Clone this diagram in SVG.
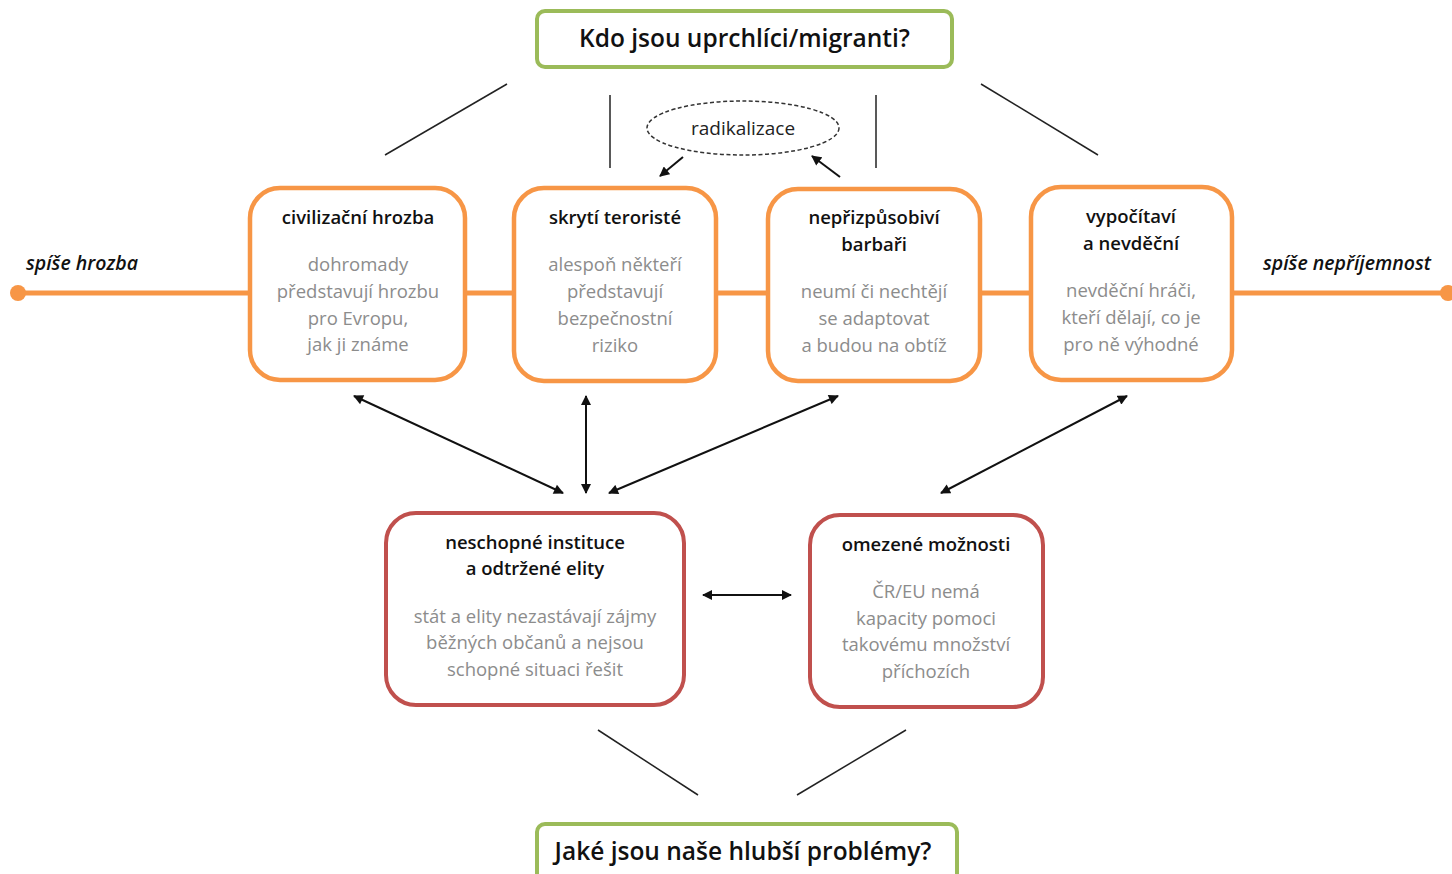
<svg xmlns="http://www.w3.org/2000/svg" width="1452" height="874" viewBox="0 0 1452 874">
<defs>
<style>
.green{fill:#fff;stroke:#9bbb59;stroke-width:4}
.orange{fill:#fff;stroke:#f79646;stroke-width:4.5}
.red{fill:#fff;stroke:#c0504d;stroke-width:4}
.q{font-family:"Open Sans","Liberation Sans",sans-serif;font-size:24.5px;font-weight:600;fill:#111;text-anchor:middle}
.t{font-family:"Open Sans","Liberation Sans",sans-serif;font-size:18.5px;font-weight:600;fill:#111;text-anchor:middle}
.b{font-family:"Open Sans","Liberation Sans",sans-serif;font-size:18.5px;fill:#8c8c8c;text-anchor:middle}
.side{font-family:"Open Sans","Liberation Sans",sans-serif;font-size:19.5px;font-weight:600;font-style:italic;fill:#111}
.ln{stroke:#222;stroke-width:1.5;fill:none}
.ar{stroke:#111;stroke-width:2;fill:none;marker-end:url(#ah)}
.ar2{stroke:#111;stroke-width:2;fill:none;marker-end:url(#ah);marker-start:url(#ahs)}
</style>
<marker id="ah" viewBox="0 0 10 10" refX="9" refY="5" markerWidth="11" markerHeight="10" markerUnits="userSpaceOnUse" orient="auto"><path d="M0,0 L10,5 L0,10 z" fill="#111"/></marker>
<marker id="ahs" viewBox="0 0 10 10" refX="1" refY="5" markerWidth="11" markerHeight="10" markerUnits="userSpaceOnUse" orient="auto"><path d="M10,0 L0,5 L10,10 z" fill="#111"/></marker>
</defs>
<rect width="1452" height="874" fill="#fff"/>

<g id="axis">
<line x1="18" y1="293" x2="1448" y2="293" stroke="#f79646" stroke-width="5"/>
<circle cx="18" cy="293" r="8" fill="#f79646"/>
<circle cx="1448" cy="293" r="8" fill="#f79646"/>
<text class="side" x="26" y="270">spíše hrozba</text>
<text class="side" x="1263" y="270">spíše nepříjemnost</text>
</g>

<g id="connectors">
<line class="ln" x1="385" y1="155" x2="507" y2="84"/>
<line class="ln" x1="610" y1="95" x2="610" y2="168"/>
<line class="ln" x1="876" y1="95" x2="876" y2="168"/>
<line class="ln" x1="981" y1="84" x2="1098" y2="155"/>
<line class="ar" x1="683" y1="157" x2="660" y2="176"/>
<line class="ar" x1="840" y1="177" x2="812" y2="156"/>
<line class="ar2" x1="354" y1="396" x2="563" y2="493"/>
<line class="ar2" x1="586" y1="396" x2="586" y2="493"/>
<line class="ar2" x1="838" y1="396" x2="609" y2="493"/>
<line class="ar2" x1="1127" y1="396" x2="941" y2="493"/>
<line class="ar2" x1="703" y1="595" x2="791" y2="595"/>
<line class="ln" x1="598" y1="730" x2="698" y2="795"/>
<line class="ln" x1="906" y1="730" x2="797" y2="795"/>
</g>

<g id="q-top">
<rect class="green" x="537" y="11" width="415" height="56" rx="8"/>
<text class="q" x="744.5" y="47">Kdo jsou uprchlíci/migranti?</text>
</g>

<g id="radikalizace">
<ellipse cx="743" cy="128" rx="96" ry="27" fill="#fff" stroke="#333" stroke-width="1.5" stroke-dasharray="4,2.5"/>
<text x="743" y="135" font-family="'Open Sans','Liberation Sans',sans-serif" font-size="19" fill="#222" text-anchor="middle">radikalizace</text>
</g>

<g id="n1">
<rect class="orange" x="250" y="188" width="215" height="192" rx="30"/>
<text class="t" x="358" y="224">civilizační hrozba</text>
<text class="b" x="358" y="271">dohromady</text>
<text class="b" x="358" y="298">představují hrozbu</text>
<text class="b" x="358" y="325">pro Evropu,</text>
<text class="b" x="358" y="351">jak ji známe</text>
</g>

<g id="n2">
<rect class="orange" x="514" y="188" width="202" height="193" rx="30"/>
<text class="t" x="615" y="224">skrytí teroristé</text>
<text class="b" x="615" y="271">alespoň někteří</text>
<text class="b" x="615" y="298">představují</text>
<text class="b" x="615" y="325">bezpečnostní</text>
<text class="b" x="615" y="352">riziko</text>
</g>

<g id="n3">
<rect class="orange" x="768" y="189" width="212" height="192" rx="30"/>
<text class="t" x="874" y="224">nepřizpůsobiví</text>
<text class="t" x="874" y="251">barbaři</text>
<text class="b" x="874" y="298">neumí či nechtějí</text>
<text class="b" x="874" y="325">se adaptovat</text>
<text class="b" x="874" y="352">a budou na obtíž</text>
</g>

<g id="n4">
<rect class="orange" x="1031" y="187" width="201" height="193" rx="30"/>
<text class="t" x="1131" y="223">vypočítaví</text>
<text class="t" x="1131" y="250">a nevděční</text>
<text class="b" x="1131" y="297">nevděční hráči,</text>
<text class="b" x="1131" y="324">kteří dělají, co je</text>
<text class="b" x="1131" y="351">pro ně výhodné</text>
</g>

<g id="n5">
<rect class="red" x="386" y="513" width="298" height="192" rx="30"/>
<text class="t" x="535" y="549">neschopné instituce</text>
<text class="t" x="535" y="575">a odtržené elity</text>
<text class="b" x="535" y="623">stát a elity nezastávají zájmy</text>
<text class="b" x="535" y="649">běžných občanů a nejsou</text>
<text class="b" x="535" y="676">schopné situaci řešit</text>
</g>

<g id="n6">
<rect class="red" x="810" y="515" width="233" height="192" rx="30"/>
<text class="t" x="926" y="551">omezené možnosti</text>
<text class="b" x="926" y="598">ČR/EU nemá</text>
<text class="b" x="926" y="625">kapacity pomoci</text>
<text class="b" x="926" y="651">takovému množství</text>
<text class="b" x="926" y="678">příchozích</text>
</g>

<g id="q-bottom">
<rect class="green" x="537" y="824" width="420" height="70" rx="8"/>
<text class="q" x="743" y="860">Jaké jsou naše hlubší problémy?</text>
</g>
</svg>
